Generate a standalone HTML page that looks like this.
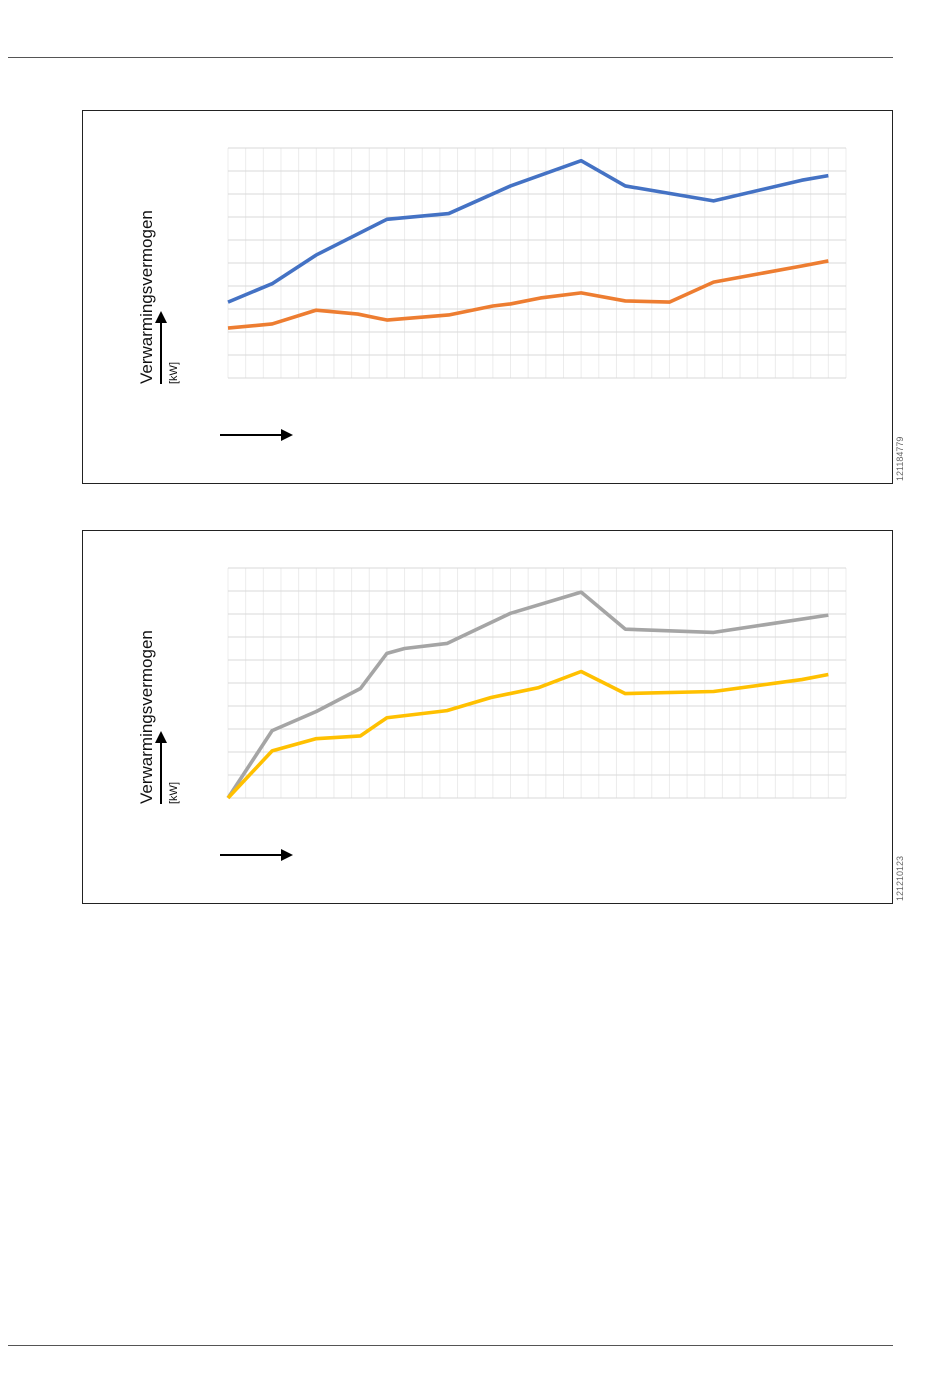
<!DOCTYPE html>
<html><head><meta charset="utf-8"><style>
body{margin:0;background:#fff;font-family:"Liberation Sans",sans-serif}
</style></head><body>
<svg width="950" height="1378" xmlns="http://www.w3.org/2000/svg">
<line x1="8" y1="57.5" x2="893" y2="57.5" stroke="#555"/>
<line x1="8" y1="1345.5" x2="893" y2="1345.5" stroke="#555"/>
<g id="c1"></g>
<g id="c2"></g>
</svg>
<script>
const c1x_blue=[0,2.5,5,9,12.5,16,20,22.5,27.5,32.5,34];
const c1y_blue=[3.3,4.1,5.35,6.9,7.15,8.35,9.45,8.35,7.7,8.6,8.8];
const c1x_orange=[0,2.5,5,7.35,9,12.5,15,16,17.7,20,22.5,25,27.5,32.5,34];
const c1y_orange=[2.17,2.35,2.95,2.78,2.52,2.74,3.13,3.22,3.48,3.7,3.35,3.3,4.17,4.87,5.09];
const c2x_gray=[0,2.5,5,7.5,9,10,12.4,16,20,22.5,27.5,34];
const c2y_gray=[0,2.93,3.76,4.76,6.29,6.5,6.72,8.03,8.95,7.34,7.2,7.95];
const c2x_yellow=[0,2.5,5,7.5,9,12.4,14.9,17.6,20,22.5,27.5,32.5,34];
const c2y_yellow=[0,2.05,2.58,2.7,3.49,3.8,4.37,4.8,5.5,4.54,4.63,5.15,5.37];
const NS='http://www.w3.org/2000/svg';
function mk(p,t,a){const e=document.createElementNS(NS,t);for(const k in a)e.setAttribute(k,a[k]);p.appendChild(e);return e;}
function chart(g,oy,id,series){
  const L=228,R=846,T=oy+148,B=oy+378,cols=35,rows=10;
  const sx=v=>L+v*(R-L)/cols, sy=v=>B-v*(B-T)/rows;
  let f=mk(g,'rect',{x:82.5,y:oy+110.5,width:810,height:373,fill:'none',stroke:'#222'});
  
  
  for(let i=0;i<=cols;i++){let l=mk(g,'line',{x1:sx(i),x2:sx(i),y1:T,y2:B,stroke:'#ececec'});
    
    }
  for(let j=0;j<=rows;j++){let l=mk(g,'line',{x1:L,x2:R,y1:sy(j),y2:sy(j),stroke:'#d9d9d9'});
    
    }
  series.forEach(s=>{let p=mk(g,'polyline',{points:s.x.map((v,i)=>sx(v)+','+sy(s.y[i])).join(' '),fill:'none',stroke:s.c,'stroke-width':3.6,'stroke-linejoin':'round'});
    
    });
  let t=mk(g,'text',{x:0,y:0,'font-size':17,transform:`translate(152,${oy+384}) rotate(-90)`,fill:'#111'});t.textContent='Verwarmingsvermogen';
  
  
  let u=mk(g,'text',{x:0,y:0,'font-size':11,transform:`translate(177,${oy+384}) rotate(-90)`,fill:'#111'});u.textContent='[kW]';
  
  
  let a1=mk(g,'line',{x1:161,x2:161,y1:oy+384,y2:oy+322,stroke:'#000','stroke-width':2});
  
  
  mk(g,'polygon',{points:`155,${oy+323} 167,${oy+323} 161,${oy+311}`,fill:'#000'});
  let a2=mk(g,'line',{x1:220,x2:282,y1:oy+435,y2:oy+435,stroke:'#000','stroke-width':2});
  
  
  mk(g,'polygon',{points:`281,${oy+429} 281,${oy+441} 293,${oy+435}`,fill:'#000'});
  let d=mk(g,'text',{x:0,y:0,'font-size':9,fill:'#666',transform:`translate(903,${oy+481}) rotate(-90)`});d.textContent=id;
  
  
}
chart(document.getElementById('c1'),0,'121184779',[{x:c1x_blue,y:c1y_blue,c:'#4472c4',n:'series-blue'},{x:c1x_orange,y:c1y_orange,c:'#ed7d31',n:'series-orange'}]);
chart(document.getElementById('c2'),420,'121210123',[{x:c2x_gray,y:c2y_gray,c:'#a5a5a5',n:'series-gray'},{x:c2x_yellow,y:c2y_yellow,c:'#ffc000',n:'series-yellow'}]);
</script>
</body></html>
